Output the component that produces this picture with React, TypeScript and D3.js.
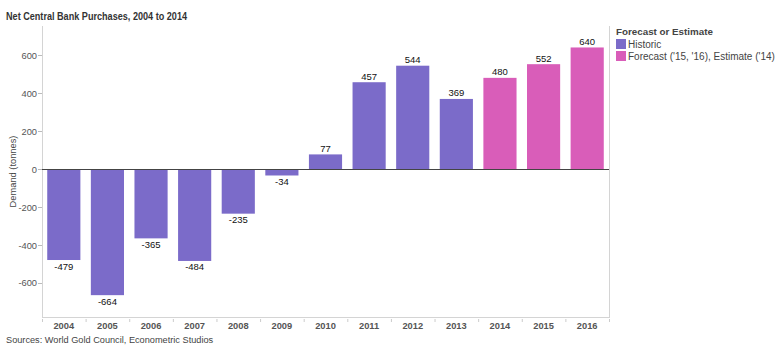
import React from "react";
import * as d3 from "d3";

const years = ["2004","2005","2006","2007","2008","2009","2010","2011","2012","2013","2014","2015","2016"];
const values = [-479,-664,-365,-484,-235,-34,77,457,544,369,480,552,640];
const kinds = ["Historic","Historic","Historic","Historic","Historic","Historic","Historic","Historic","Historic","Historic","Forecast","Forecast","Forecast"];
const yTicks = [-600,-400,-200,0,200,400,600];
const legendLabels = ["Historic","Forecast ('15, '16), Estimate ('14)"];
const legendKeys = ["Historic","Forecast"];
const colors = ["#7b6bc9","#d95db9"];

export default function App() {
  const W = 775, H = 363;
  const left = 42, right = 609, top = 26, bottom = 317;
  const x = d3.scaleBand().domain(years).range([left, right]).paddingInner(0.24).paddingOuter(0.12);
  const y = d3.scaleLinear().domain([-779, 753]).range([bottom, top]);
  const color = d3.scaleOrdinal<string, string>().domain(legendKeys).range(colors);
  const step = x.step();
  const font = "Arial, 'Liberation Sans', sans-serif";
  return (
    <svg width={W} height={H} style={{ position: "absolute", left: 0, top: 0 }} fontFamily={font}>
      <text x={6} y={20} fontWeight="bold" fill="#333" fontSize={10} textLength={181} lengthAdjust="spacingAndGlyphs">Net Central Bank Purchases, 2004 to 2014</text>
      <line x1={left + 0.5} x2={left + 0.5} y1={top} y2={bottom} stroke="#d4d4d4" />
      <line x1={right + 0.5} x2={right + 0.5} y1={top} y2={bottom} stroke="#d4d4d4" />
      <line x1={left} x2={right + 1} y1={bottom + 0.5} y2={bottom + 0.5} stroke="#d4d4d4" />
      {yTicks.map(t => (
        <g key={t}>
          <line x1={left - 4} x2={left} y1={Math.round(y(t)) + 0.5} y2={Math.round(y(t)) + 0.5} stroke="#bbb" />
          <text x={left - 5} y={y(t) + 3.5} fontSize={9.3} fill="#555" textAnchor="end">{t}</text>
        </g>
      ))}
      <text transform={`translate(16,${(top + bottom) / 2}) rotate(-90)`} fontSize={9.3} fill="#444" textAnchor="middle">Demand (tonnes)</text>
      {years.map((yr, i) => {
        const v = values[i];
        const bx = x(yr)!;
        const y0 = y(0), y1 = y(v);
        return (
          <g key={yr}>
            <rect x={bx} width={x.bandwidth()} y={Math.min(y0, y1)} height={Math.abs(y1 - y0)} fill={color(kinds[i])} />
            <text x={bx + x.bandwidth() / 2} y={v >= 0 ? y1 - 2.5 : y1 + 9.5} fontSize={9.5} fill="#111" textAnchor="middle">{v}</text>
          </g>
        );
      })}
      <line x1={left} x2={right} y1={Math.round(y(0)) + 0.5} y2={Math.round(y(0)) + 0.5} stroke="#444" />
      {years.map((yr, i) => (
        <g key={yr}>
          <line x1={left + step * i + 0.5} x2={left + step * i + 0.5} y1={bottom + 2} y2={bottom + 5} stroke="#ccc" />
          <text x={x(yr)! + x.bandwidth() / 2} y={bottom + 11.5} fontSize={9.3} fontWeight="bold" fill="#555" textAnchor="middle">{yr}</text>
        </g>
      ))}
      <line x1={right + 0.5} x2={right + 0.5} y1={bottom + 2} y2={bottom + 5} stroke="#ccc" />
      <text x={6} y={343} fontSize={9.2} fill="#444">Sources: World Gold Council, Econometric Studios</text>
      <text x={616} y={35} fontSize={9.8} fontWeight="bold" fill="#444">Forecast or Estimate</text>
      {legendKeys.map((k, i) => (
        <g key={k}>
          <rect x={616} y={39 + i * 12} width={10} height={10} fill={color(k)} />
          <text x={628} y={47.5 + i * 12} fontSize={10} fill="#444">{legendLabels[i]}</text>
        </g>
      ))}
    </svg>
  );
}
